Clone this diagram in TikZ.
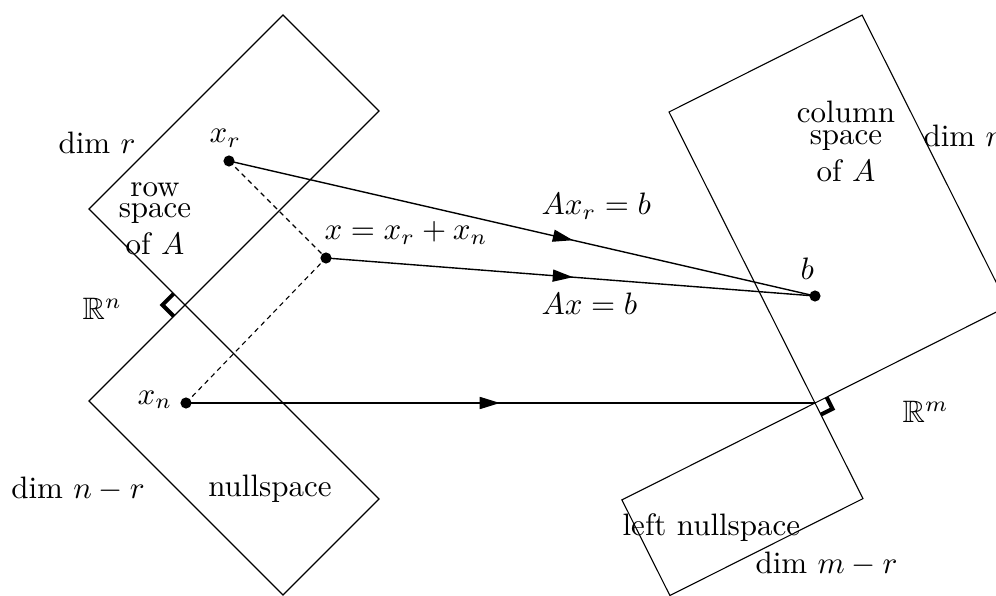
\documentclass[tikz,border=0pt]{standalone}
\usepackage{amssymb}
\usetikzlibrary{arrows.meta,decorations.markings}
\begin{document}
\begin{tikzpicture}[x=0.3226pt,y=-0.3226pt,
  edge/.style={line width=0.35pt},
  conn/.style={line width=0.45pt},
  dashline/.style={line width=0.35pt,dash pattern=on 1.6pt off 1.3pt},
  rightmark/.style={line width=1.3pt},
  dot/.style={circle,fill,inner sep=0pt,minimum size=3.6pt},
  lbl/.style={inner sep=0pt,anchor=base},
  lblw/.style={inner sep=0pt,anchor=base west},
  stack/.style={inner sep=0pt,anchor=base,align=center},
  arrowat/.style={postaction={decorate},decoration={markings,
     mark=at position #1 with {\arrow{Triangle[length=6.5pt,width=3.9pt]}}}}]
\clip (0,0) rectangle (996,596);
\useasboundingbox (0,0) rectangle (996,596);
% left space R^n
\coordinate (S) at (185,305);
\coordinate (L) at (89,209);
\coordinate (T) at (283,15);
\coordinate (R) at (379,111);
\coordinate (L2) at (89,401);
\coordinate (B) at (283,595);
\coordinate (R2) at (379,499);
\draw[edge] (S) -- (L) -- (T) -- (R) -- cycle;
\draw[edge] (S) -- (L2) -- (B) -- (R2) -- cycle;
\draw[rightmark] (173.7,293.7) -- (162.4,305) -- (173.7,316.3);
% right space R^m
\coordinate (O2) at (815,403);
\coordinate (TL) at (669,112);
\coordinate (CT) at (862.1,15.1);
\coordinate (CR) at (1008.1,306.1);
\coordinate (LT) at (621.9,499.9);
\coordinate (LB) at (669.9,595.5);
\coordinate (LR) at (863.0,498.6);
\draw[edge] (O2) -- (TL) -- (CT) -- (CR) -- cycle;
\draw[edge] (O2) -- (LT) -- (LB) -- (LR) -- cycle;
\draw[rightmark] (826.6,397.2) -- (832.5,408.8) -- (820.8,414.6);
% points
\node[dot] (xr) at (229,161) {};
\node[dot] (x) at (326,258) {};
\node[dot] (xn) at (186,403) {};
\node[dot] (b) at (815,296) {};
% connectors
\draw[dashline] (xr.center) -- (x.center);
\draw[dashline] (xn.center) -- (x.center);
\draw[conn,arrowat=0.587] (xr.center) -- (b.center);
\draw[conn,arrowat=0.505] (x.center) -- (b.center);
\draw[conn,arrowat=0.499] (xn.center) -- (O2);
% labels
\node[lbl] (dimr) at (97,154) {dim $r$};
\node[lblw] (lxr) at (209,143) {$x_r$};
\node[stack] (rowsp) at (155,255) {row\\[-5.2pt]space\\of $A$};
\node[lblw] (lx) at (324,240) {$x=x_r+x_n$};
\node[lblw] (laxr) at (541,215) {$Ax_r=b$};
\node[lblw] (lax) at (541,315) {$Ax=b$};
\node[lblw] (lb) at (800,280) {$b$};
\node[stack] (colsp) at (846,182) {column\\[-4.9pt]space\\of $A$};
\node[lblw] (dimr2) at (923,147) {dim $r$};
\node[lblw] (Rn) at (82,320) {$\mathbb{R}^n$};
\node[lblw] (Rm) at (902,423) {$\mathbb{R}^m$};
\node[lblw] (lxn) at (137,404) {$x_n$};
\node[lbl] (dimnr) at (78,498) {dim $n-r$};
\node[lbl] (nulls) at (270,496) {nullspace};
\node[lblw] (lnull) at (622,535) {left nullspace};
\node[lblw] (dimmr) at (755,573) {dim $m-r$};
\end{tikzpicture}
\end{document}
